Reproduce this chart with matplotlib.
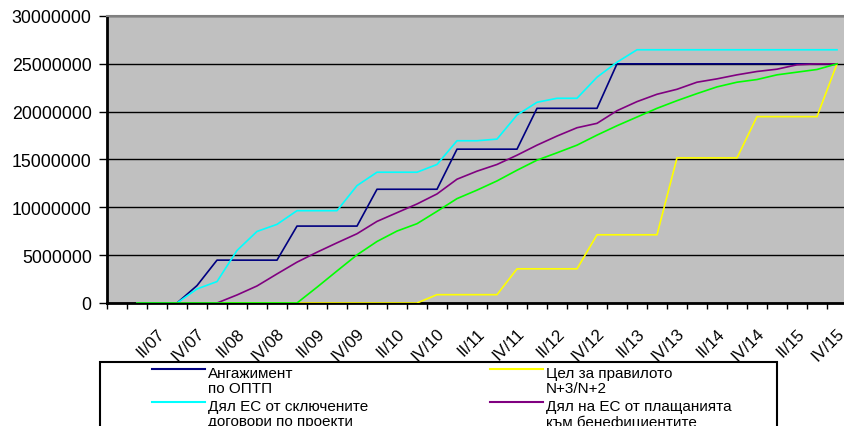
import numpy as np
import matplotlib.pyplot as plt
from matplotlib.lines import Line2D
from matplotlib.patches import Rectangle
from matplotlib.ticker import FuncFormatter

# quarters 2007-2015, first category is blank
quarters = [''] + [f'{q}/{y:02d}' for y in range(7, 16) for q in ['I', 'II', 'III', 'IV']]

nan = np.nan
# values in millions
commitment = [nan, 0, 0, 0, 1.82, 4.48, 4.48, 4.48, 4.48, 8.04, 8.04, 8.04, 8.04,
              11.89, 11.89, 11.89, 11.89, 16.08, 16.08, 16.08, 16.08,
              20.35, 20.35, 20.35, 20.35] + [25.0] * 12
target = [nan] + [0] * 15 + [0.87] * 4 + [3.57] * 4 + [7.13] * 4 + [15.17] * 4 + [19.48] * 4 + [25.0]
contracted = [nan, 0, 0, 0, 1.47, 2.24, 5.49, 7.48, 8.22, 9.65, 9.65, 9.65, 12.27,
              13.67, 13.67, 13.67, 14.48, 16.96, 16.96, 17.13, 19.65, 20.98, 21.40,
              21.40, 23.6, 25.17] + [26.47] * 11
paid = [nan, 0, 0, 0, 0, 0, 0.84, 1.78, 3.04, 4.27, 5.31, 6.29, 7.24, 8.53, 9.44,
        10.35, 11.40, 12.94, 13.78, 14.48, 15.45, 16.5, 17.45, 18.32, 18.78, 20.1,
        21.05, 21.82, 22.34, 23.08, 23.43, 23.85, 24.2, 24.44, 24.9, 25.0, 25.0]
certified = [nan] + [0] * 9 + [1.65, 3.35, 5.03, 6.43, 7.52, 8.29, 9.58, 10.91, 11.8,
             12.76, 13.88, 14.93, 15.7, 16.5, 17.55, 18.53, 19.44, 20.35, 21.15,
             21.89, 22.59, 23.08, 23.36, 23.85, 24.13, 24.41, 25.0]

series = [
    ('Ангажимент\nпо ОПТП', commitment, '#000080'),
    ('Цел за правилото\nN+3/N+2', target, '#FFFF00'),
    ('Дял ЕС от сключените\nдоговори по проекти', contracted, '#00FFFF'),
    ('Дял на ЕС от плащанията\nкъм бенефициентите', paid, '#800080'),
    ('', certified, '#00FF00'),
]

plt.rcParams['font.family'] = ['Liberation Sans', 'DejaVu Sans']

fig = plt.figure(figsize=(8.44, 4.27), dpi=100)
ax = fig.add_axes([107 / 844, 1 - 304 / 427, 740 / 844, 287 / 427])
ax.set_facecolor('#C0C0C0')

x = np.arange(len(quarters))
for label, vals, color in series:
    ax.plot(x, np.array(vals) * 1e6, color=color, lw=1.2, zorder=3)

ax.set_xlim(-0.5, len(quarters) - 0.5)
ax.set_ylim(0, 30e6)
ax.set_yticks(np.arange(0, 30e6 + 1, 5e6))
ax.yaxis.set_major_formatter(FuncFormatter(lambda v, p: f'{int(v)}'))
ax.yaxis.grid(True, color='black', lw=1)
ax.set_axisbelow(True)

ax.set_xticks(np.arange(-0.5, len(quarters), 1))
ax.set_xticklabels([])
ax.set_xticks(x[2::2], minor=True)
ax.set_xticklabels([quarters[i] for i in x[2::2]], minor=True, rotation=45,
                   ha='right', va='top', rotation_mode='anchor', fontsize=12)
ax.tick_params(axis='x', which='major', direction='out', length=4, width=1)
ax.tick_params(axis='x', which='minor', length=0, pad=16)
ax.tick_params(axis='y', direction='out', length=6, width=1, labelsize=12.8, pad=5)

for s in ['left', 'bottom']:
    ax.spines[s].set_color('black')
    ax.spines[s].set_linewidth(2)
ax.spines['top'].set_color('#808080')
ax.spines['top'].set_linewidth(1.5)
ax.spines['right'].set_visible(False)

# legend box, partly cut off at the bottom
W, H = 844, 427
fig.patches.append(Rectangle((100 / W, -0.2), 677 / W, (H - 363) / H + 0.2,
                             transform=fig.transFigure, facecolor='white',
                             edgecolor='black', lw=1.5, zorder=1))
slots = [(152, 370), (490, 370), (152, 403), (490, 403)]
for (label, vals, color), (lx, ly) in zip(series[:4], slots):
    fig.add_artist(Line2D([lx / W, (lx + 53) / W], [1 - ly / H, 1 - ly / H],
                          color=color, lw=1.5, transform=fig.transFigure, zorder=2))
    fig.text((lx + 56) / W, 1 - (ly - 3) / H, label, va='top', ha='left',
             fontsize=11, linespacing=1.12, zorder=2)

fig.savefig('out.png', dpi=100)
